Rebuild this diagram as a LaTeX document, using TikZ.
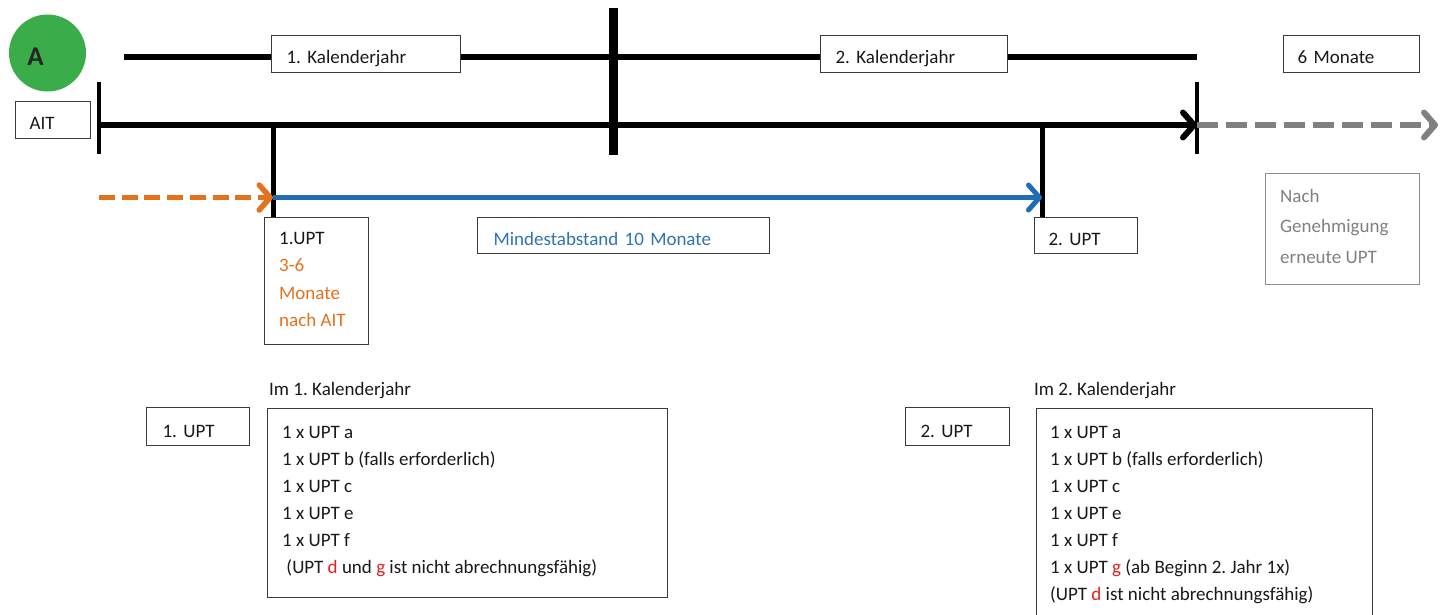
\documentclass[tikz,border=0pt]{standalone}
\usepackage{fontspec}
\setmainfont{Carlito}
\usetikzlibrary{arrows.meta}
\definecolor{agreen}{HTML}{3AAD4A}
\definecolor{aorange}{HTML}{E4711C}
\definecolor{ablue}{HTML}{1F6DB5}
\definecolor{atblue}{HTML}{2E74B5}
\definecolor{agray}{HTML}{808080}
\definecolor{ared}{HTML}{E0221C}
\definecolor{aframe}{HTML}{3A3A3A}
\begin{document}
\frenchspacing
\begin{tikzpicture}[x=1pt,y=-1pt,
  font=\fontsize{19}{27}\selectfont,
  box/.style={draw=aframe, line width=1.2pt, anchor=north west, align=left, inner ysep=0pt, fill=white, text=black!90},
  lbox/.style={box, text height=19pt, text depth=0pt},
  txt/.style={anchor=north west, align=left, inner sep=0pt, text=black!90},
  chev/.style={-{Straight Barb[length=11pt,width=25pt,line cap=round,line join=round]}},
]
\useasboundingbox (0,0) rectangle (1441,614);

% green marker
\node[circle, fill=agreen, minimum size=77pt, inner sep=0pt] (circ) at (47.5,53) {};
\node[inner sep=0pt, text=black!85, font=\fontsize{27}{27}\selectfont\bfseries] (Alab) at (35.5,57) {A};

% calendar year line
\coordinate (ytop) at (124,57);
\coordinate (yend) at (1197,57);
\node[lbox, minimum width=189pt, minimum height=37pt, text width=159pt, inner xsep=15pt] (kal1) at (271,35) {1. Kalenderjahr};
\node[lbox, minimum width=187pt, minimum height=37pt, text width=157pt, inner xsep=15pt] (kal2) at (820,35) {2. Kalenderjahr};
\node[lbox, minimum width=136pt, minimum height=37pt, text width=108pt, inner xsep=14pt] (mon6) at (1283,35) {6 Monate};
\draw[line width=6pt] (ytop) -- (ytop -| kal1.west);
\draw[line width=6pt] (ytop -| kal1.east) -- (ytop -| kal2.west);
\draw[line width=6pt] (ytop -| kal2.east) -- (yend);

% AIT and main time line
\node[lbox, minimum width=75pt, minimum height=37pt, text width=47pt, inner xsep=14pt] (ait) at (15,101) {AIT};
\coordinate (t0) at (99,125);
\coordinate (t1) at (1197,125);
\coordinate (tend) at (1438,125);
\draw[line width=6pt, chev] (t0) -- (t1);
\draw[line width=4.5pt] (99,82) -- (99,154);
\draw[line width=4.5pt] (1197,82) -- (1197,154);
\draw[line width=6pt, agray, chev, dash pattern=on 21pt off 8pt] (t1) -- (tend);
% year divider
\draw[line width=9pt] (613.5,8) -- (613.5,155);

% UPT markers
\coordinate (u1) at (273,125);
\coordinate (u2) at (1042,125);
\node[box, minimum width=104pt, minimum height=127pt] (upt1) at (264,217) {};
\node[txt, font=\fontsize{19}{27.3}\selectfont] (upt1txt) at (279,232) {1.UPT\\\textcolor{aorange}{3-6}\\\textcolor{aorange}{Monate}\\\textcolor{aorange}{nach AIT}};
\node[lbox, minimum width=103pt, minimum height=36pt, text width=75pt, inner xsep=14pt] (upt2) at (1034,217) {2. UPT};
\draw[line width=5pt] (u1) -- (upt1.north -| u1);
\draw[line width=5pt] (u2) -- (upt2.north -| u2);

% interval arrows
\coordinate (o0) at (99,197.5);
\coordinate (o1) at (273,197.5);
\coordinate (b1) at (1042,197.5);
\draw[line width=5.5pt, aorange, chev, dash pattern=on 16pt off 6.7pt] (o0) -- (o1);
\draw[line width=5pt, ablue, chev] (o1) -- (b1);

\node[lbox, minimum width=292pt, minimum height=36pt, text width=260pt, inner xsep=16pt, text=atblue] (mind) at (477,217) {Mindestabstand 10 Monate};

\node[box, draw=agray!90, minimum width=154pt, minimum height=111pt] (nach) at (1265,173) {};
\node[txt, text=agray, font=\fontsize{19}{30.5}\selectfont] (nachtxt) at (1280,189) {Nach\\Genehmigung\\erneute UPT};

% bottom part
\node[txt] (im1) at (269,382) {Im 1. Kalenderjahr};
\node[lbox, text height=21pt, minimum width=103pt, minimum height=38pt, text width=71pt, inner xsep=16pt] (b1upt) at (146,407) {1. UPT};
\node[box, minimum width=400pt, minimum height=189pt] (list1) at (267,408) {};
\node[txt] (list1txt) at (282,426) {1 x UPT a\\1 x UPT b (falls erforderlich)\\1 x UPT c\\1 x UPT e\\1 x UPT f\\\ (UPT \textcolor{ared}{d} und \textcolor{ared}{g} ist nicht abrechnungsfähig)};

\node[txt] (im2) at (1034,382) {Im 2. Kalenderjahr};
\node[lbox, text height=21pt, minimum width=104pt, minimum height=38pt, text width=74pt, inner xsep=15pt] (b2upt) at (905,407) {2. UPT};
\node[box, minimum width=336pt, minimum height=220pt] (list2) at (1036,408) {};
\node[txt] (list2txt) at (1050,426) {1 x UPT a\\1 x UPT b (falls erforderlich)\\1 x UPT c\\1 x UPT e\\1 x UPT f\\1 x UPT \textcolor{ared}{g} (ab Beginn 2. Jahr 1x)\\(UPT \textcolor{ared}{d} ist nicht abrechnungsfähig)};
\end{tikzpicture}
\end{document}
